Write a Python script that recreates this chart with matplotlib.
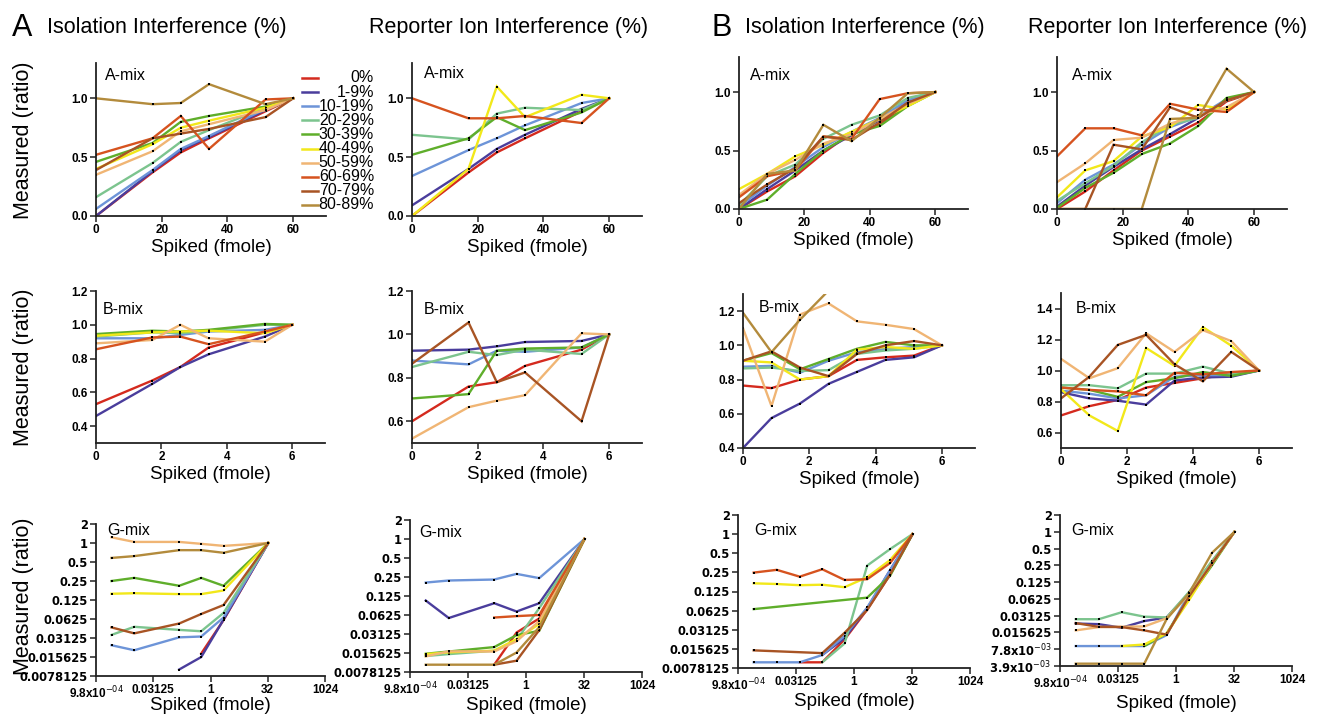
import numpy as np
import matplotlib
matplotlib.use('Agg')
import matplotlib.pyplot as plt
from matplotlib.lines import Line2D

plt.rcParams['font.family'] = ['Liberation Sans', 'DejaVu Sans']

nan = np.nan

levels = ['0%', '1-9%', '10-19%', '20-29%', '30-39%', '40-49%',
          '50-59%', '60-69%', '70-79%', '80-89%']
colors = ['#d42a1e', '#4a3d9c', '#6d94d8', '#7cc48e', '#5fae2b', '#f2e81a',
          '#f0b574', '#d6531f', '#a85424', '#b38b3c']

# spiked amounts (fmole)
x_A6 = [0, 17.2, 25.8, 34.4, 51.6, 60.0]
x_A8 = [0, 8.6, 17.2, 25.8, 34.4, 43.0, 51.6, 60.0]
x_B6 = [0, 1.72, 2.58, 3.44, 5.16, 6.0]
x_B8 = [0, 0.86, 1.72, 2.58, 3.44, 4.3, 5.16, 6.0]
x_G6 = [0.0025, 0.0099, 0.15, 0.57, 2.2, 33]
x_G8 = [0.0025, 0.0099, 0.039, 0.15, 0.57, 2.2, 8.6, 33]

# ---- panel A, isolation interference ----
isoA_Amix = {
    '0%':     [0.0, 0.37, 0.54, 0.66, 0.89, 1.0],
    '1-9%':   [0.0, 0.38, 0.56, 0.67, 0.90, 1.0],
    '10-19%': [0.06, 0.39, 0.57, 0.68, 0.91, 1.0],
    '20-29%': [0.16, 0.45, 0.63, 0.73, 0.92, 1.0],
    '30-39%': [0.46, 0.62, 0.80, 0.85, 0.93, 1.0],
    '40-49%': [0.40, 0.61, 0.75, 0.81, 0.92, 1.0],
    '50-59%': [0.35, 0.55, 0.72, 0.78, 0.90, 1.0],
    '60-69%': [0.52, 0.66, 0.85, 0.57, 0.99, 1.0],
    '70-79%': [0.39, 0.66, 0.70, 0.74, 0.84, 1.0],
    '80-89%': [1.0, 0.95, 0.96, 1.12, 0.95, 1.0],
}
isoA_Bmix = {
    '0%':     [0.53, 0.67, 0.75, 0.865, 0.955, 1.0],
    '1-9%':   [0.46, 0.65, 0.75, 0.825, 0.93, 1.0],
    '10-19%': [0.92, 0.92, 0.94, 0.96, 0.97, 1.0],
    '20-29%': [0.93, 0.955, 0.95, 0.965, 1.0, 1.0],
    '30-39%': [0.945, 0.965, 0.96, 0.97, 1.005, 1.0],
    '40-49%': [0.935, 0.955, 0.96, 0.965, 0.95, 1.0],
    '50-59%': [0.89, 0.91, 1.0, 0.92, 0.90, 1.0],
    '60-69%': [0.855, 0.925, 0.93, 0.885, 0.96, 1.0],
}
isoA_Gmix = {
    '0%':     [nan, nan, nan, 0.0177, 0.06, 1.0],
    '1-9%':   [nan, nan, 0.0099, 0.0156, 0.061, 1.0],
    '10-19%': [0.024, 0.020, 0.032, 0.033, 0.066, 1.0],
    '20-29%': [0.035, 0.047, 0.042, 0.040, 0.078, 1.0],
    '30-39%': [0.25, 0.28, 0.21, 0.28, 0.21, 1.0],
    '40-49%': [0.157, 0.16, 0.155, 0.155, 0.177, 1.0],
    '50-59%': [1.23, 1.04, 1.04, 0.97, 0.90, 1.0],
    '70-79%': [0.046, 0.037, 0.053, 0.075, 0.104, 1.0],
    '80-89%': [0.58, 0.62, 0.77, 0.77, 0.70, 1.0],
}

# ---- panel A, reporter ion interference ----
repA_Amix = {
    '0%':     [0.0, 0.37, 0.54, 0.66, 0.89, 1.0],
    '1-9%':   [0.09, 0.40, 0.57, 0.69, 0.91, 1.0],
    '10-19%': [0.34, 0.56, 0.66, 0.77, 0.96, 1.0],
    '20-29%': [0.69, 0.65, 0.87, 0.92, 0.90, 1.0],
    '30-39%': [0.52, 0.66, 0.84, 0.73, 0.88, 1.0],
    '40-49%': [0.0, 0.40, 1.10, 0.84, 1.03, 1.0],
    '60-69%': [1.0, 0.83, 0.83, 0.85, 0.79, 1.0],
}
repA_Bmix = {
    '0%':     [0.60, 0.76, 0.78, 0.855, 0.93, 1.0],
    '1-9%':   [0.925, 0.93, 0.945, 0.965, 0.97, 1.0],
    '10-19%': [0.88, 0.862, 0.925, 0.92, 0.94, 1.0],
    '20-29%': [0.85, 0.92, 0.905, 0.93, 0.91, 1.0],
    '30-39%': [0.705, 0.725, 0.925, 0.935, 0.94, 1.0],
    '50-59%': [0.52, 0.665, 0.695, 0.72, 1.005, 1.0],
    '70-79%': [0.865, 1.055, 0.78, 0.825, 0.60, 1.0],
}
repA_Gmix = {
    '0%':     [nan, nan, 0.0102, 0.033, 0.055, 1.0],
    '1-9%':   [0.106, 0.056, 0.096, 0.071, 0.096, 1.0],
    '10-19%': [0.204, 0.22, 0.228, 0.28, 0.24, 1.0],
    '20-29%': [0.014, 0.015, 0.017, 0.025, 0.08, 1.0],
    '30-39%': [0.0152, 0.0165, 0.0194, 0.030, 0.035, 1.0],
    '40-49%': [0.015, 0.016, 0.017, 0.026, 0.045, 1.0],
    '50-59%': [0.0138, 0.0166, 0.0165, 0.024, 0.05, 1.0],
    '60-69%': [nan, nan, 0.057, 0.060, 0.0625, 1.0],
    '70-79%': [nan, nan, 0.0102, 0.0118, 0.036, 1.0],
    '80-89%': [0.0102, 0.0102, 0.0102, 0.0159, 0.04, 1.0],
}

# ---- panel B, isolation interference ----
isoB_Amix = {
    '0%':     [0.0, 0.15, 0.28, 0.48, 0.65, 0.72, 0.90, 1.0],
    '1-9%':   [0.0, 0.17, 0.33, 0.50, 0.63, 0.76, 0.92, 1.0],
    '10-19%': [0.02, 0.20, 0.36, 0.53, 0.66, 0.78, 0.93, 1.0],
    '20-29%': [0.03, 0.28, 0.38, 0.60, 0.72, 0.80, 0.95, 1.0],
    '30-39%': [0.0, 0.08, 0.30, 0.50, 0.64, 0.71, 0.88, 1.0],
    '40-49%': [0.17, 0.30, 0.45, 0.55, 0.66, 0.77, 0.88, 1.0],
    '50-59%': [0.12, 0.30, 0.42, 0.56, 0.64, 0.77, 0.90, 1.0],
    '60-69%': [0.10, 0.28, 0.33, 0.62, 0.60, 0.94, 0.99, 1.0],
    '70-79%': [0.05, 0.21, 0.35, 0.62, 0.59, 0.74, 0.91, 1.0],
    '80-89%': [0.0, 0.30, 0.33, 0.72, 0.58, 0.78, 0.99, 1.0],
}
isoB_Bmix = {
    '0%':     [0.765, 0.75, 0.80, 0.82, 0.915, 0.93, 0.94, 1.0],
    '1-9%':   [0.40, 0.575, 0.66, 0.775, 0.845, 0.915, 0.93, 1.0],
    '10-19%': [0.875, 0.88, 0.84, 0.91, 0.96, 0.98, 0.99, 1.0],
    '20-29%': [0.865, 0.87, 0.85, 0.855, 0.95, 0.97, 0.98, 1.0],
    '30-39%': [0.91, 0.955, 0.86, 0.92, 0.98, 1.02, 1.0, 1.0],
    '40-49%': [0.91, 0.90, 0.80, 0.82, 0.975, 0.99, 0.98, 1.0],
    '50-59%': [1.10, 0.645, 1.18, 1.245, 1.14, 1.12, 1.095, 1.0],
    '70-79%': [0.91, 0.965, 0.87, 0.82, 0.95, 1.0, 1.025, 1.0],
    '80-89%': [1.19, 0.96, 1.15, 1.32, nan, nan, nan, nan],
}
isoB_Gmix = {
    '0%':     [nan, nan, 0.0096, 0.0096, 0.022, 0.065, 0.23, 1.0],
    '1-9%':   [nan, nan, nan, 0.0125, 0.023, 0.068, 0.27, 1.0],
    '10-19%': [0.0096, 0.0096, 0.0096, 0.0125, 0.025, 0.07, 0.27, 1.0],
    '20-29%': [nan, nan, nan, 0.0096, 0.019, 0.32, 0.58, 1.0],
    '30-39%': [0.066, nan, nan, nan, nan, 0.10, 0.22, 1.0],
    '40-49%': [0.168, 0.164, 0.157, 0.16, 0.146, 0.21, 0.39, 1.0],
    '60-69%': [0.248, 0.274, 0.214, 0.28, 0.19, 0.195, 0.35, 1.0],
    '70-79%': [0.0148, nan, nan, 0.0134, 0.028, 0.064, 0.23, 1.0],
}

# ---- panel B, reporter ion interference ----
repB_Amix = {
    '0%':     [0.0, 0.15, 0.33, 0.50, 0.62, 0.74, 0.92, 1.0],
    '1-9%':   [0.02, 0.20, 0.36, 0.51, 0.64, 0.78, 0.93, 1.0],
    '10-19%': [0.05, 0.25, 0.38, 0.55, 0.70, 0.79, 0.94, 1.0],
    '20-29%': [0.07, 0.22, 0.37, 0.57, 0.72, 0.78, 0.93, 1.0],
    '30-39%': [0.01, 0.18, 0.31, 0.47, 0.56, 0.71, 0.95, 1.0],
    '40-49%': [0.10, 0.33, 0.41, 0.62, 0.70, 0.89, 0.85, 1.0],
    '50-59%': [0.23, 0.39, 0.59, 0.61, 0.73, 0.80, 0.87, 1.0],
    '60-69%': [0.45, 0.69, 0.69, 0.63, 0.90, 0.85, 0.83, 1.0],
    '70-79%': [0.0, 0.0, 0.55, 0.51, 0.87, 0.78, 0.93, 1.0],
    '80-89%': [0.0, 0.0, 0.0, 0.0, 0.77, 0.78, 1.20, 1.0],
}
repB_Bmix = {
    '0%':     [0.71, 0.77, 0.81, 0.89, 0.92, 0.95, 0.98, 1.0],
    '1-9%':   [0.86, 0.82, 0.805, 0.78, 0.935, 0.955, 0.96, 1.0],
    '10-19%': [0.87, 0.85, 0.82, 0.84, 0.96, 0.97, 0.97, 1.0],
    '20-29%': [0.905, 0.905, 0.885, 0.98, 0.98, 1.025, 0.98, 1.0],
    '30-39%': [0.89, 0.875, 0.83, 0.925, 0.95, 0.99, 0.965, 1.0],
    '40-49%': [0.88, 0.71, 0.61, 1.145, 1.03, 1.28, 1.16, 1.0],
    '50-59%': [1.075, 0.95, 1.015, 1.24, 1.12, 1.26, 1.19, 1.0],
    '60-69%': [0.89, 0.875, 0.865, 0.84, 0.985, 0.975, 0.99, 1.0],
    '70-79%': [0.82, 0.96, 1.165, 1.23, 1.04, 0.93, 1.12, 1.0],
}
repB_Gmix = {
    '1-9%':   [0.0226, 0.022, 0.019, 0.025, 0.029, 0.08, 0.29, 1.0],
    '10-19%': [0.0089, 0.0089, 0.0089, 0.0089, 0.014, 0.08, 0.27, 1.0],
    '20-29%': [0.027, 0.027, 0.036, 0.030, 0.029, 0.084, 0.30, 1.0],
    '30-39%': [nan, nan, nan, 0.0089, 0.015, 0.065, 0.25, 1.0],
    '40-49%': [nan, nan, 0.0089, 0.0095, 0.015, 0.06, 0.27, 1.0],
    '50-59%': [0.017, 0.0195, 0.0198, 0.02, 0.028, 0.075, 0.27, 1.0],
    '70-79%': [0.023, 0.0197, 0.0195, 0.017, 0.0143, 0.07, 0.27, 1.0],
    '80-89%': [0.0043, 0.0043, 0.0043, 0.0043, 0.027, 0.08, 0.42, 1.0],
}

W, H = 1319, 717
fig = plt.figure(figsize=(W / 100, H / 100), dpi=100)


def px_axes(left, right, top, bottom):
    return fig.add_axes([left / W, 1 - bottom / H, (right - left) / W, (bottom - top) / H])


def style(ax):
    for s in ['top', 'right']:
        ax.spines[s].set_visible(False)
    for s in ['left', 'bottom']:
        ax.spines[s].set_color('#222222')
        ax.spines[s].set_linewidth(1.3)
    ax.tick_params(direction='out', length=4, width=1.1, color='#222222', pad=2)
    ax.patch.set_alpha(0)


def draw(ax, xs, data):
    for lev, col in zip(levels, colors):
        if lev not in data:
            continue
        x = np.array(xs, dtype=float)
        y = np.array(data[lev], dtype=float)
        m = np.isfinite(y)
        ax.plot(x[m], y[m], color=col, lw=1.7, marker='s', ms=1.8,
                mfc='k', mec='k', mew=0, solid_joinstyle='miter')


def linear_panel(ax, xs, data, xlim, xticks, ylim, yticks, name, tpos):
    draw(ax, xs, data)
    style(ax)
    ax.set_xlim(*xlim)
    ax.set_ylim(*ylim)
    ax.set_xticks(xticks)
    ax.set_yticks(yticks)
    ax.set_yticklabels(['%.1f' % t for t in yticks])
    for lbl in ax.get_xticklabels() + ax.get_yticklabels():
        lbl.set_fontweight('bold')
        lbl.set_fontsize(8.5)
    ax.text(tpos[0], tpos[1], name, transform=ax.transAxes, fontsize=11.5,
            ha='left', va='center')
    ax.set_xlabel('Spiked (fmole)', fontsize=13.5, labelpad=2)


def log_panel(ax, xs, data, ymin_exp, ylabels, name, tpos, lpad):
    draw(ax, xs, data)
    style(ax)
    ax.set_xscale('log', base=2)
    ax.set_yscale('log', base=2)
    ax.set_xlim(2.0 ** -10, 2.0 ** 10)
    ax.set_ylim(2.0 ** ymin_exp, 2.0)
    ax.minorticks_off()
    ax.set_xticks([2.0 ** -10, 2.0 ** -5, 1, 32, 1024])
    ax.set_xticklabels([r'9.8x10$^{-04}$', '0.03125', '1', '32', '1024'],
                       fontweight='bold', fontsize=8.5)
    ax.set_yticks([2.0 ** e for e in range(ymin_exp, 2)])
    ax.set_yticklabels(ylabels, fontweight='bold', fontsize=8.3,
                       family='DejaVu Sans')
    ax.text(tpos[0], tpos[1], name, transform=ax.transAxes, fontsize=11.5,
            ha='left', va='center')
    ax.set_xlabel('Spiked (fmole)', fontsize=13.5, labelpad=lpad)


g_ylabels = ['0.0078125', '0.015625', '0.03125', '0.0625', '0.125',
             '0.25', '0.5', '1', '2']
g_ylabels12 = [r'3.9x10$^{-03}$', r'7.8x10$^{-03}$'] + g_ylabels[1:]

# row 1: A-mix
ax = px_axes(96, 326, 63, 216)
linear_panel(ax, x_A6, isoA_Amix, (0, 70), [0, 20, 40, 60], (0, 1.3),
             [0.0, 0.5, 1.0], 'A-mix', (0.04, 0.92))
ax = px_axes(412, 642, 63, 216)
linear_panel(ax, x_A6, repA_Amix, (0, 70), [0, 20, 40, 60], (0, 1.3),
             [0.0, 0.5, 1.0], 'A-mix', (0.05, 0.93))
ax = px_axes(739, 968, 57, 209)
linear_panel(ax, x_A8, isoB_Amix, (0, 70), [0, 20, 40, 60], (0, 1.3),
             [0.0, 0.5, 1.0], 'A-mix', (0.05, 0.88))
ax = px_axes(1057, 1287, 57, 209)
linear_panel(ax, x_A8, repB_Amix, (0, 70), [0, 20, 40, 60], (0, 1.3),
             [0.0, 0.5, 1.0], 'A-mix', (0.065, 0.88))

# row 2: B-mix
ax = px_axes(96, 325, 291, 443)
linear_panel(ax, x_B6, isoA_Bmix, (0, 7), [0, 2, 4, 6], (0.3, 1.2),
             [0.4, 0.6, 0.8, 1.0, 1.2], 'B-mix', (0.03, 0.88))
ax = px_axes(412, 642, 291, 443)
linear_panel(ax, x_B6, repA_Bmix, (0, 7), [0, 2, 4, 6], (0.5, 1.2),
             [0.6, 0.8, 1.0, 1.2], 'B-mix', (0.05, 0.88))
ax = px_axes(743, 975, 294, 448)
linear_panel(ax, x_B8, isoB_Bmix, (0, 7), [0, 2, 4, 6], (0.4, 1.3),
             [0.4, 0.6, 0.8, 1.0, 1.2], 'B-mix', (0.07, 0.91))
ax = px_axes(1061, 1292, 293, 448)
linear_panel(ax, x_B8, repB_Bmix, (0, 7), [0, 2, 4, 6], (0.5, 1.5),
             [0.6, 0.8, 1.0, 1.2, 1.4], 'B-mix', (0.065, 0.90))

# row 3: G-mix (log2 axes)
ax = px_axes(96, 325, 524, 676)
log_panel(ax, x_G6, isoA_Gmix, -7, g_ylabels, 'G-mix', (0.05, 0.955), -3)
ax = px_axes(410, 642, 520, 672)
log_panel(ax, x_G6, repA_Gmix, -7, g_ylabels, 'G-mix', (0.04, 0.92), 0)
ax = px_axes(738, 970, 515, 668)
log_panel(ax, x_G8, isoB_Gmix, -7, g_ylabels, 'G-mix', (0.07, 0.90), 0)
ax = px_axes(1060, 1292, 515, 666)
log_panel(ax, x_G8, repB_Gmix, -8, g_ylabels12, 'G-mix', (0.05, 0.895), 3)

# headings
fig.text(22 / W, 1 - 28 / H, 'A', fontsize=22, ha='center', va='center')
fig.text(722 / W, 1 - 28 / H, 'B', fontsize=22, ha='center', va='center')
for xc, t in [(167, 'Isolation Interference (%)'), (509, 'Reporter Ion Interference (%)'),
              (865, 'Isolation Interference (%)'), (1168, 'Reporter Ion Interference (%)')]:
    fig.text(xc / W, 1 - 27 / H, t, fontsize=15.5, ha='center', va='center')

for yc in [140, 367, 596]:
    fig.text(24 / W, 1 - yc / H, 'Measured (ratio)', fontsize=15.5, rotation=90,
             ha='center', va='center')

# legend
for i, (lev, col) in enumerate(zip(levels, colors)):
    yy = 1 - (78 + i * 14.1) / H
    fig.add_artist(Line2D([302 / W, 318 / W], [yy, yy], color=col, lw=1.8,
                          transform=fig.transFigure))
    fig.text(374 / W, yy, lev, fontsize=11.5, ha='right', va='center')

fig.savefig('out.png', dpi=100)
